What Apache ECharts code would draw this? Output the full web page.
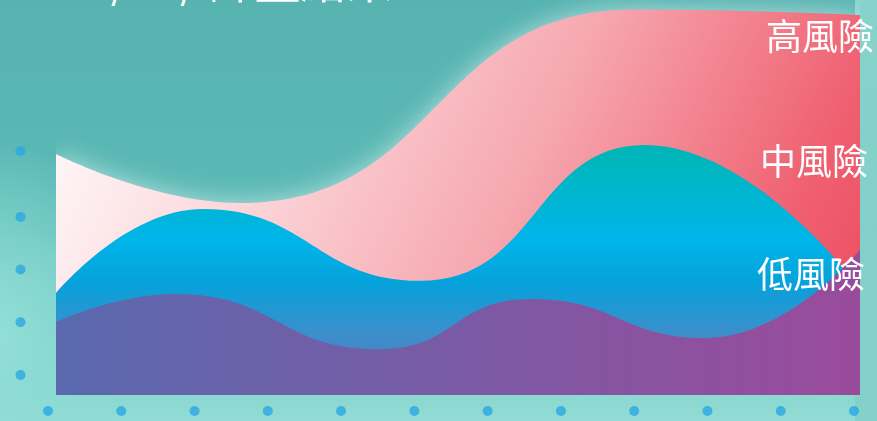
<!DOCTYPE html>
<html>
<head>
<meta charset="utf-8">
<title>評量結果</title>
<script src="https://cdn.jsdelivr.net/npm/echarts@6/dist/echarts.min.js"></script>
<style>
  html, body { margin: 0; padding: 0; }
  #chart { width: 877px; height: 421px; }
</style>
</head>
<body>
<div id="chart"></div>
<script>
// 12 個時間點 (0 ~ 11)，三種風險的佔比 (0-100)
// 曲線只記錄轉折點，位置以時間點為單位
const categories = ['1', '2', '3', '4', '5', '6', '7', '8', '9', '10', '11', '12'];
const highX = [0, 2.52, 7.92, 11];
const highY = [61.0, 48.6, 97.6, 96.2];
const midX = [0, 2.01, 4.98, 8.06, 11];
const midY = [25.8, 47.1, 28.9, 63.3, 27.0];
const lowX = [0, 1.63, 4.43, 6.49, 8.88, 11];
const lowY = [18.5, 25.6, 11.6, 24.3, 14.4, 36.7];
const seriesNames = ['高風險', '中風險', '低風險'];
const titleText = '30/10/ 評量結果';

// 裝飾用的軸點
const xDots = categories.map(() => 0);
const yDotTicks = [0, 1, 2, 3, 4.25];

const pairs = (xs, ys) => xs.map((x, i) => [x, ys[i]]);

const chart = echarts.init(document.getElementById('chart'));
const font = '"Noto Sans CJK TC", "Noto Sans", sans-serif';

const labelStyle = (text) => ({
  text: text,
  fill: '#ffffff',
  font: '36px ' + font,
  textAlign: 'right',
  textVerticalAlign: 'middle',
  shadowBlur: 4,
  shadowColor: 'rgba(0,0,0,0.12)'
});

const option = {
  backgroundColor: {
    type: 'linear', x: 0, y: 0, x2: 0, y2: 1,
    colorStops: [
      { offset: 0, color: '#56b3b0' },
      { offset: 0.55, color: '#5cbab6' },
      { offset: 1, color: '#92dcd5' }
    ]
  },
  animation: false,
  grid: [
    { left: 56, right: 17, top: 0, bottom: 26 },
    { left: 48, right: 23, top: 405, height: 12 },
    { left: 15, width: 11, top: 151, bottom: 46 }
  ],
  xAxis: [
    { gridIndex: 0, type: 'value', min: 0, max: 11, show: false },
    { gridIndex: 1, type: 'category', boundaryGap: false, data: categories, show: false },
    { gridIndex: 2, type: 'value', min: -1, max: 1, show: false }
  ],
  yAxis: [
    { gridIndex: 0, type: 'value', min: 0, max: 100, show: false },
    { gridIndex: 1, type: 'value', min: -1, max: 1, show: false },
    { gridIndex: 2, type: 'value', min: 0, max: 4.25, show: false }
  ],
  graphic: [
    // 左下較亮的背景
    {
      type: 'circle', z: -10, silent: true,
      shape: { cx: -20, cy: 330, r: 190 },
      style: {
        fill: {
          type: 'radial', x: 0.5, y: 0.5, r: 0.5,
          colorStops: [
            { offset: 0, color: 'rgba(150,226,218,0.95)' },
            { offset: 0.55, color: 'rgba(140,220,212,0.6)' },
            { offset: 1, color: 'rgba(140,220,212,0)' }
          ]
        }
      }
    },
    // 右側亮邊
    {
      type: 'rect', z: -10, silent: true,
      shape: { x: 855, y: 0, width: 22, height: 421 },
      style: {
        fill: {
          type: 'linear', x: 0, y: 0, x2: 0, y2: 1,
          colorStops: [
            { offset: 0, color: 'rgba(140,214,207,0.9)' },
            { offset: 1, color: 'rgba(130,208,200,0.9)' }
          ]
        }
      }
    },
    {
      type: 'text', z: 10, x: 60, y: 4,
      style: { text: titleText, fill: '#ffffff', font: '46px ' + font, textVerticalAlign: 'bottom' }
    },
    { type: 'text', z: 10, x: 874, y: 36, style: labelStyle(seriesNames[0]) },
    { type: 'text', z: 10, x: 868, y: 161, style: labelStyle(seriesNames[1]) },
    { type: 'text', z: 10, x: 865, y: 274, style: labelStyle(seriesNames[2]) }
  ],
  series: [
    {
      name: seriesNames[0],
      type: 'line',
      smooth: true,
      showSymbol: false,
      data: pairs(highX, highY),
      lineStyle: { width: 0 },
      areaStyle: {
        opacity: 1,
        shadowBlur: 25,
        shadowColor: 'rgba(255,255,255,0.55)',
        color: {
          type: 'linear', x: 0, y: 0, x2: 1, y2: 1,
          colorStops: [
            { offset: 0, color: '#ffffff' },
            { offset: 0.3, color: '#fbd3d7' },
            { offset: 0.55, color: '#f6a8b0' },
            { offset: 0.85, color: '#ef5f70' },
            { offset: 1, color: '#ec4a5e' }
          ]
        }
      }
    },
    {
      name: seriesNames[1],
      type: 'line',
      smooth: true,
      showSymbol: false,
      data: pairs(midX, midY),
      lineStyle: { width: 0 },
      areaStyle: {
        opacity: 1,
        color: {
          type: 'linear', x: 0, y: 0, x2: 0, y2: 1,
          colorStops: [
            { offset: 0, color: '#00b6b4' },
            { offset: 0.38, color: '#00b5e9' },
            { offset: 0.55, color: '#05a2db' },
            { offset: 0.75, color: '#3b8fcc' },
            { offset: 1, color: '#5b73b8' }
          ]
        }
      }
    },
    {
      name: seriesNames[2],
      type: 'line',
      smooth: true,
      showSymbol: false,
      data: pairs(lowX, lowY),
      lineStyle: { width: 0 },
      areaStyle: {
        opacity: 1,
        color: {
          type: 'linear', x: 0, y: 0, x2: 1, y2: 0,
          colorStops: [
            { offset: 0, color: '#5a69ae' },
            { offset: 1, color: '#9a4b9b' }
          ]
        }
      }
    },
    {
      type: 'scatter',
      xAxisIndex: 1, yAxisIndex: 1,
      symbolSize: 10,
      itemStyle: { color: '#2aa7e2' },
      data: xDots
    },
    {
      type: 'scatter',
      xAxisIndex: 2, yAxisIndex: 2,
      symbolSize: 10,
      itemStyle: { color: '#2aa7e2' },
      data: yDotTicks.map(v => [0, v])
    }
  ]
};

chart.setOption(option);
</script>
</body>
</html>
